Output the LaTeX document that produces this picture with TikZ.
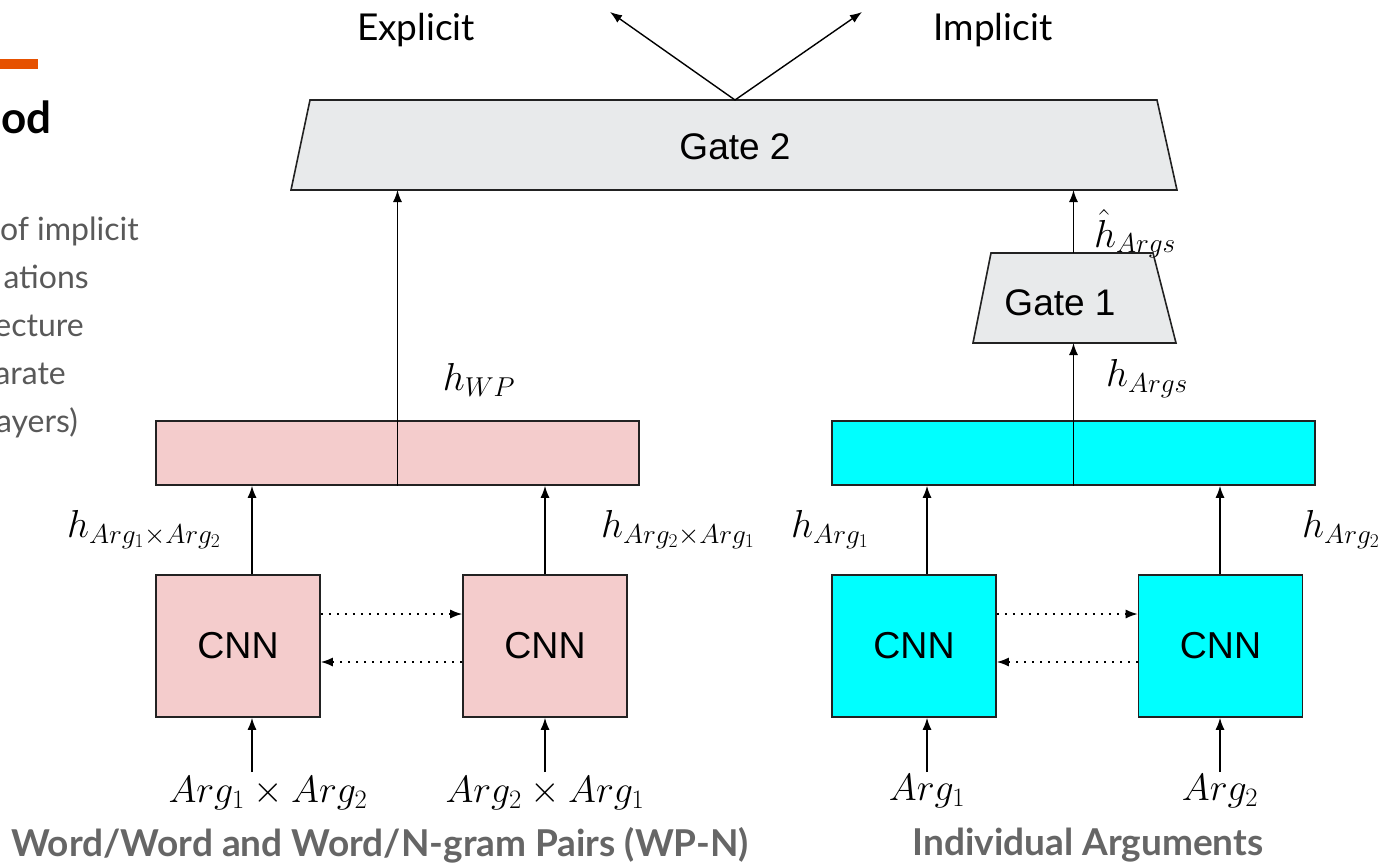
\RequirePackage{fix-cm}
\documentclass[tikz,border=0pt]{standalone}
\usepackage[no-math]{fontspec}
\setmainfont{Lato}
\newfontfamily\arial{Liberation Sans}
\usetikzlibrary{arrows.meta}

\definecolor{pinkfill}{HTML}{F4CCCC}
\definecolor{cyanfill}{HTML}{00FFFF}
\definecolor{gatefill}{HTML}{E8EAEB}
\definecolor{slidegrey}{HTML}{595959}
\definecolor{labelgrey}{HTML}{666666}
\definecolor{accent}{HTML}{E65100}
\definecolor{edge}{HTML}{222222}

\begin{document}
\begin{tikzpicture}[x=1pt,y=-1pt,
  box/.style={draw=edge, line width=1.6pt, inner sep=0pt},
  pinkbox/.style={box, fill=pinkfill},
  cyanbox/.style={box, fill=cyanfill},
  cnn/.style={minimum width=164pt, minimum height=142pt, font=\arial\fontsize{37.5}{44}\selectfont},
  wide/.style={minimum width=483pt, minimum height=64pt},
  gate/.style={draw=edge, line width=1.6pt, fill=gatefill, line join=miter},
  gatetext/.style={inner sep=0pt, font=\arial\fontsize{37}{44}\selectfont},
  arr/.style={line width=1.4pt, -{Latex[length=12pt,width=9pt]}},
  dots/.style={line width=1.5pt, dash pattern=on 2pt off 6pt, -{Latex[length=12pt,width=9pt]}},
  lbl/.style={inner sep=0pt, font=\fontsize{38}{44}\selectfont},
  hlbl/.style={inner sep=0pt, font=\fontsize{39}{46}\selectfont},
  outtext/.style={inner sep=0pt, font=\fontsize{37}{44}\selectfont},
  sidetext/.style={inner sep=0pt, anchor=base east, text=slidegrey, font=\fontsize{32}{38}\selectfont},
  caption/.style={inner sep=0pt, text=labelgrey, font=\bfseries\fontsize{37}{44}\selectfont},
]
\useasboundingbox (0,0) rectangle (1379,865);

% slide fragments at the left edge
\fill[accent] (0,59) rectangle (38,69);
\node[inner sep=0pt, anchor=base east, font=\bfseries\fontsize{44}{50}\selectfont] (head) at (52,133) {od};
\node[sidetext] (s1) at (139,240) {of implicit};
\node[sidetext] (s2) at (89,288) {ations};
\node[sidetext] (s3) at (84,336) {ecture};
\node[sidetext] (s4) at (66,384) {arate};
\node[sidetext] (s5) at (78,432) {ayers)};

% gates
\draw[gate] (310,100) -- (1157,100) -- (1177,190) -- (291,190) -- cycle;
\node[gatetext] (gate2) at (735,147) {Gate 2};
\draw[gate] (991,253) -- (1153,253) -- (1176,343) -- (973,343) -- cycle;
\node[gatetext] (gate1) at (1060,303) {Gate 1};
\coordinate (g2top) at (735,100);
\coordinate (g2botL) at (397.5,190);
\coordinate (g2botR) at (1073.5,190);
\coordinate (g1top) at (1073.5,253);
\coordinate (g1bot) at (1073.5,343);

% outputs
\node[outtext] (expl) at (416,30) {Explicit};
\node[outtext] (impl) at (993,30) {Implicit};
\coordinate (oL) at (610,12);
\coordinate (oR) at (862,12);
\draw[arr] (g2top) -- (oL);
\draw[arr] (g2top) -- (oR);

% concatenated representations
\node[pinkbox, wide] (wp) at (397.5,453) {};
\node[cyanbox, wide] (args) at (1073.5,453) {};

% CNN encoders
\node[pinkbox, cnn] (c1) at (238,646) {CNN};
\node[pinkbox, cnn] (c2) at (545,646) {CNN};
\node[cyanbox, cnn] (c3) at (914,646) {CNN};
\node[cyanbox, cnn] (c4) at (1220.5,646) {CNN};

% cross links between encoders
\draw[dots] (c1.east |- 0,614) -- (c2.west |- 0,614);
\draw[dots] (c2.west |- 0,662) -- (c1.east |- 0,662);
\draw[dots] (c3.east |- 0,614) -- (c4.west |- 0,614);
\draw[dots] (c4.west |- 0,662) -- (c3.east |- 0,662);

% inputs
\node[lbl] (i1) at (268,793) {$Arg_1\times Arg_2$};
\node[lbl] (i2) at (545,793) {$Arg_2\times Arg_1$};
\node[lbl] (i3) at (927,791) {$Arg_1$};
\node[lbl] (i4) at (1220,791) {$Arg_2$};
\coordinate (a1) at (252,772);
\coordinate (a2) at (545,772);
\coordinate (a3) at (927,772);
\coordinate (a4) at (1220,772);
\draw[arr] (a1) -- (a1 |- c1.south);
\draw[arr] (a2) -- (a2 |- c2.south);
\draw[arr] (a3) -- (a3 |- c3.south);
\draw[arr] (a4) -- (a4 |- c4.south);

% encoder outputs
\draw[arr] (a1 |- c1.north) -- (a1 |- wp.south);
\draw[arr] (a2 |- c2.north) -- (a2 |- wp.south);
\draw[arr] (a3 |- c3.north) -- (a3 |- args.south);
\draw[arr] (a4 |- c4.north) -- (a4 |- args.south);

% towards the gates
\draw[arr] (wp.south) -- (g2botL);
\draw[arr] (args.south) -- (g1bot);
\draw[arr] (g1top) -- (g2botR);

% representation labels
\node[hlbl] (hwp) at (479,380) {$h_{WP}$};
\node[hlbl] (h12) at (144,530) {$h_{Arg_1\times Arg_2}$};
\node[hlbl] (h21) at (678,530) {$h_{Arg_2\times Arg_1}$};
\node[hlbl] (h1) at (830,530) {$h_{Arg_1}$};
\node[hlbl] (h2) at (1341,530) {$h_{Arg_2}$};
\node[hlbl] (hargs) at (1147,379) {$h_{Args}$};
\node[hlbl] (hhat) at (1135,234) {$\hat{h}_{Args}$};

% group captions
\node[caption] (capL) at (380,845) {Word/Word and Word/N-gram Pairs (WP-N)};
\node[caption] (capR) at (1088,845) {Individual Arguments};
\end{tikzpicture}
\end{document}
